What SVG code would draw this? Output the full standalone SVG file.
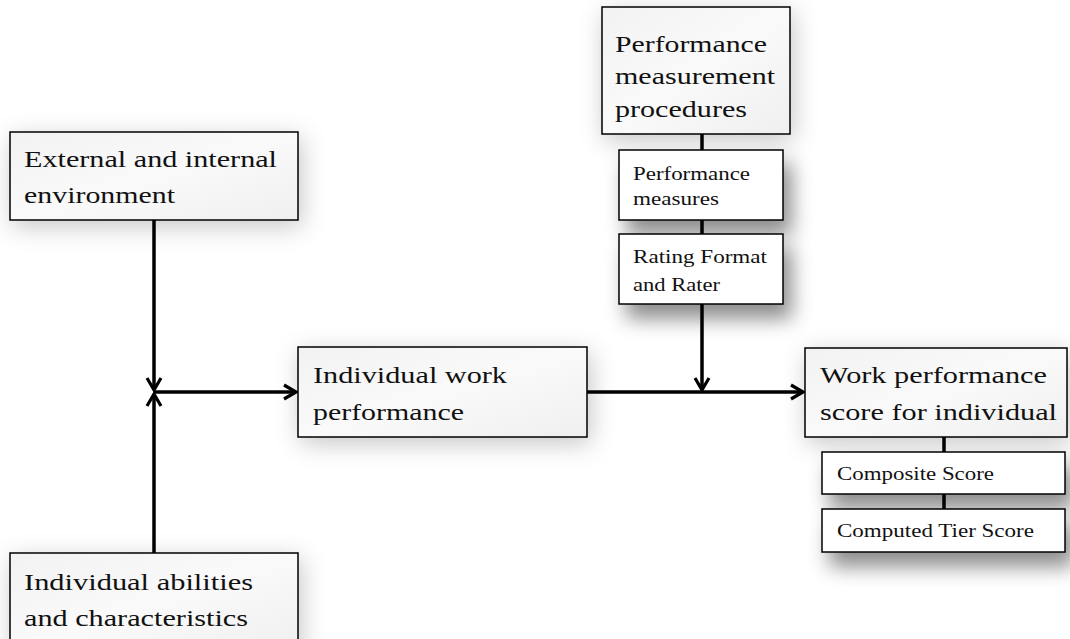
<svg xmlns="http://www.w3.org/2000/svg" width="1070" height="639" viewBox="0 0 1070 639" font-family="Liberation Serif, Times New Roman, Times, serif">
<defs>
<linearGradient id="bg" x1="0" y1="0" x2="1" y2="1">
<stop offset="0" stop-color="#f2f2f2"/><stop offset="0.5" stop-color="#fafafa"/><stop offset="1" stop-color="#efefef"/>
</linearGradient>
<filter id="sh" x="-30%" y="-30%" width="160%" height="180%">
<feDropShadow dx="3" dy="6" stdDeviation="12" flood-color="#000" flood-opacity="0.22"/>
</filter>
<filter id="sh2" x="-30%" y="-40%" width="170%" height="220%">
<feDropShadow dx="8" dy="14" stdDeviation="10" flood-color="#000" flood-opacity="0.45"/>
</filter>
<marker id="ah" viewBox="0 0 16 18" refX="14" refY="9" markerWidth="16" markerHeight="18" markerUnits="userSpaceOnUse" orient="auto">
<path d="M2,2 L14,9 L2,16" fill="none" stroke="#000" stroke-width="3.2" stroke-linejoin="miter"/>
</marker>
<style>
.big{fill:url(#bg);stroke:#000;stroke-width:1.5;filter:url(#sh)}
.sm{fill:#fff;stroke:#000;stroke-width:1.5;filter:url(#sh2)}
.tb{font-size:24px;fill:#111}
.ts{font-size:19px;fill:#111}
.ln{stroke:#000;stroke-width:3.5;fill:none}
</style>
</defs>
<g id="connectors">
<line class="ln" x1="154" y1="220" x2="154" y2="390" marker-end="url(#ah)"/>
<line class="ln" x1="154" y1="553" x2="154" y2="394" marker-end="url(#ah)"/>
<line class="ln" x1="154" y1="392" x2="296" y2="392" marker-end="url(#ah)"/>
<line class="ln" x1="587" y1="392" x2="803" y2="392" marker-end="url(#ah)"/>
<line class="ln" x1="702" y1="134" x2="702" y2="150"/>
<line class="ln" x1="702" y1="220" x2="702" y2="234"/>
<line class="ln" x1="702" y1="304" x2="702" y2="390" marker-end="url(#ah)"/>
<line class="ln" x1="944" y1="437" x2="944" y2="452"/>
<line class="ln" x1="944" y1="494" x2="944" y2="509"/>
</g>
<g id="external">
<rect class="big" x="10" y="132" width="288" height="88"/>
<text class="tb" x="24" y="167" textLength="253" lengthAdjust="spacingAndGlyphs">External and internal</text>
<text class="tb" x="24" y="203" textLength="151" lengthAdjust="spacingAndGlyphs">environment</text>
</g>
<g id="abilities">
<rect class="big" x="10" y="553" width="288" height="100"/>
<text class="tb" x="24" y="590" textLength="229" lengthAdjust="spacingAndGlyphs">Individual abilities</text>
<text class="tb" x="24" y="626" textLength="224" lengthAdjust="spacingAndGlyphs">and characteristics</text>
</g>
<g id="work">
<rect class="big" x="298" y="347" width="289" height="90"/>
<text class="tb" x="313" y="383" textLength="194" lengthAdjust="spacingAndGlyphs">Individual work</text>
<text class="tb" x="313" y="420" textLength="151" lengthAdjust="spacingAndGlyphs">performance</text>
</g>
<g id="procedures">
<rect class="big" x="602" y="7" width="188" height="127"/>
<text class="tb" x="615" y="52" textLength="152" lengthAdjust="spacingAndGlyphs">Performance</text>
<text class="tb" x="615" y="84" textLength="160" lengthAdjust="spacingAndGlyphs">measurement</text>
<text class="tb" x="615" y="117" textLength="132" lengthAdjust="spacingAndGlyphs">procedures</text>
</g>
<g id="measures">
<rect class="sm" x="619" y="150" width="164" height="70"/>
<text class="ts" x="633" y="180" textLength="117" lengthAdjust="spacingAndGlyphs">Performance</text>
<text class="ts" x="633" y="205" textLength="86" lengthAdjust="spacingAndGlyphs">measures</text>
</g>
<g id="rating">
<rect class="sm" x="619" y="234" width="164" height="70"/>
<text class="ts" x="633" y="263" textLength="134" lengthAdjust="spacingAndGlyphs">Rating Format</text>
<text class="ts" x="633" y="291" textLength="87" lengthAdjust="spacingAndGlyphs">and Rater</text>
</g>
<g id="score">
<rect class="big" x="805" y="348" width="262" height="89"/>
<text class="tb" x="820" y="383" textLength="227" lengthAdjust="spacingAndGlyphs">Work performance</text>
<text class="tb" x="820" y="420" textLength="237" lengthAdjust="spacingAndGlyphs">score for individual</text>
</g>
<g id="composite">
<rect class="sm" x="822" y="452" width="243" height="42"/>
<text class="ts" x="837" y="480" textLength="157" lengthAdjust="spacingAndGlyphs">Composite Score</text>
</g>
<g id="tier">
<rect class="sm" x="822" y="509" width="243" height="43"/>
<text class="ts" x="837" y="537" textLength="197" lengthAdjust="spacingAndGlyphs">Computed Tier Score</text>
</g>
</svg>
